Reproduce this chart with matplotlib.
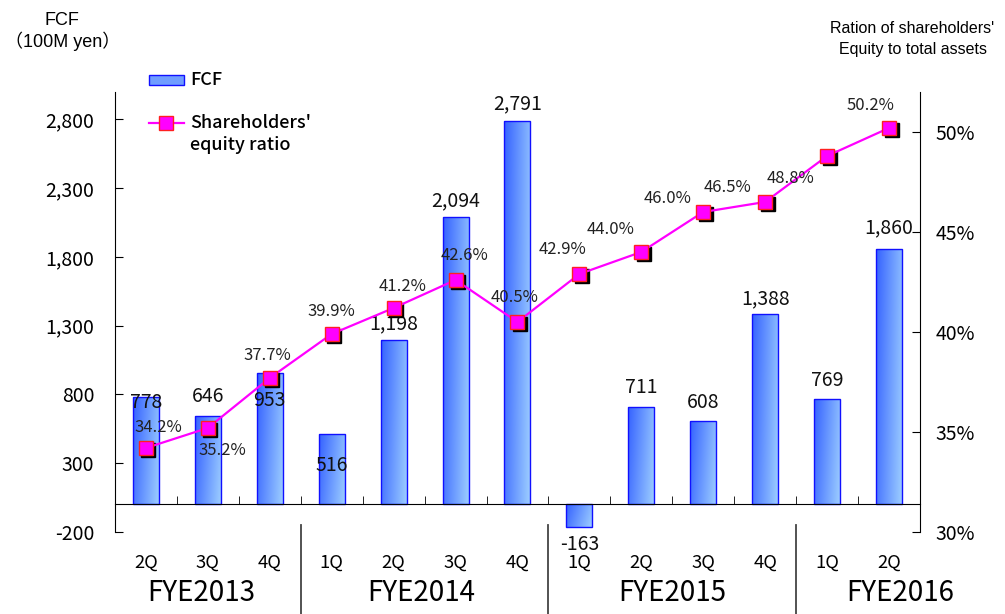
import numpy as np
import matplotlib
matplotlib.use("Agg")
import matplotlib.pyplot as plt
from matplotlib.patches import Rectangle
from matplotlib.transforms import offset_copy, blended_transform_factory

plt.rcParams['font.family'] = ['Noto Sans CJK JP', 'DejaVu Sans']

# data
quarters = ["2Q", "3Q", "4Q", "1Q", "2Q", "3Q", "4Q", "1Q", "2Q", "3Q", "4Q", "1Q", "2Q"]
years = ["FYE2013", "FYE2014", "FYE2015", "FYE2016"]
fcf = [778, 646, 953, 516, 1198, 2094, 2791, -163, 711, 608, 1388, 769, 1860]
equity_ratio = [34.2, 35.2, 37.7, 39.9, 41.2, 42.6, 40.5, 42.9, 44.0, 46.0, 46.5, 48.8, 50.2]

# label layout (pixel offsets from the mark)
fcf_label_dy = [-5, 19, -27, -32, 16, 16, 17, -18, 19, 18, 15, 18, 21]
ratio_label_dx = [12, 15, -2, 0, 9, 9, -3, -17, -31, -36, -38, -37, -19]
ratio_label_dy = [20, -23, 22, 22, 21, 24, 24, 24, 22, 13, 14, -23, 22]
year_x = [0.9, 4.44, 8.5, 12.18]
separators = [2.5, 6.5, 10.5]

fig = plt.figure(figsize=(10.05, 6.14), dpi=100)
ax = fig.add_axes([0.1144, 0.1336, 0.801, 0.7166])
ax2 = ax.twinx()

x = np.arange(len(fcf))
bars = ax.bar(x, fcf, width=0.42, color='none', edgecolor='#1010ff', linewidth=1.0, zorder=3)

# gradient fill for each bar
grad = np.linspace(0, 1, 64)
gx, gy = np.meshgrid(grad, grad)
g = 0.8 * gx + 0.2 * (1 - gy)
cmap = matplotlib.colors.LinearSegmentedColormap.from_list("bl", ["#3562ff", "#9fd0ff"])
for b in bars:
    x0, y0 = b.get_x(), b.get_y()
    w, h = b.get_width(), b.get_height()
    im = ax.imshow(g, extent=(x0, x0 + w, y0 + h, y0) if h > 0 else (x0, x0 + w, y0, y0 + h),
                   cmap=cmap, aspect='auto', zorder=2, origin='upper')
    im.set_clip_path(b)

ax.set_xlim(-0.5, len(fcf) - 0.5)
ax.set_ylim(-200, 3000)
ax.set_yticks([-200, 300, 800, 1300, 1800, 2300, 2800])
ax.set_yticklabels(["-200", "300", "800", "1,300", "1,800", "2,300", "2,800"])
ax.tick_params(axis='y', direction='in', length=6, labelsize=14, pad=15)

ax.spines['top'].set_visible(False)
ax.spines['right'].set_visible(False)
ax.spines['bottom'].set_position(('data', 0))
ax.spines['bottom'].set_zorder(4)
ax.set_xticks(x)
ax.set_xticklabels([])
ax.tick_params(axis='x', which='major', length=0)
ax.set_xticks(np.arange(0.5, len(fcf) - 1), minor=True)
ax.tick_params(axis='x', which='minor', direction='in', length=6)

for i, v in enumerate(fcf):
    ax.annotate(f"{v:,}", (i, v), xytext=(0, fcf_label_dy[i]), textcoords='offset pixels',
                ha='center', va='center', fontsize=14, color='#111111', zorder=6)

# equity ratio line with shadowed markers
ax2.set_ylim(30, 52)
ax2.set_yticks([30, 35, 40, 45, 50])
ax2.set_yticklabels(["30%", "35%", "40%", "45%", "50%"])
ax2.tick_params(axis='y', direction='in', length=6, labelsize=14, pad=11)
for s in ['top', 'left', 'bottom']:
    ax2.spines[s].set_visible(False)

shadow = offset_copy(ax2.transData, fig=fig, x=2.5, y=-2.5, units='dots')
ax2.plot(x, equity_ratio, ls='none', marker='s', ms=10.5, mfc='black', mec='black',
         transform=shadow, zorder=4)
ax2.plot(x, equity_ratio, color='#ff00ff', lw=1.6, marker='s', ms=10.5, mfc='#ff00ff',
         mec='#ff2020', mew=1.0, zorder=5)
for i, p in enumerate(equity_ratio):
    ax2.annotate(f"{p:.1f}%", (i, p), xytext=(ratio_label_dx[i], ratio_label_dy[i]),
                 textcoords='offset pixels', ha='center', va='center', fontsize=12,
                 color='#222222', zorder=6)

# category labels below the plot
trans = blended_transform_factory(ax.transData, ax.transAxes)
for i, q in enumerate(quarters):
    ax.text(i, -0.07, q, transform=trans, ha='center', va='center', fontsize=13.3)
for xp, yr in zip(year_x, years):
    ax.text(xp, -0.139, yr, transform=trans, ha='center', va='center', fontsize=20)
for sx in separators:
    ax.plot([sx, sx], [0.016, -0.2], transform=trans, color='#444444', lw=1.3, clip_on=False)

# axis titles
title_font = ['Liberation Sans', 'Noto Sans CJK JP']
fig.text(0.062, 0.967, "FCF", ha='center', va='center', fontsize=13, family=title_font)
fig.text(0.062, 0.932, "（100M yen）", ha='center', va='center', fontsize=13, family=title_font)
fig.text(0.908, 0.954, "Ration of shareholders'", ha='center', va='center', fontsize=11.5,
         family=title_font)
fig.text(0.908, 0.920, "Equity to total assets", ha='center', va='center', fontsize=11.5,
         family=title_font)

# legend, drawn in axes fraction
ax2.add_patch(Rectangle((0.0422, 1.016), 0.0435, 0.023, transform=ax2.transAxes,
                        facecolor='#6f9dff', edgecolor='#1010ff', lw=1.0, clip_on=False))
ax2.text(0.0932, 1.027, "FCF", transform=ax2.transAxes, ha='left', va='center',
         fontsize=13, fontweight='medium')
ax2.plot([0.0422, 0.0857], [0.9295, 0.9295], transform=ax2.transAxes, color='#ff00ff',
         lw=1.6, clip_on=False)
ax2.plot([0.064], [0.9295], transform=ax2.transAxes, marker='s', ms=10, mfc='#ff00ff',
         mec='#ff2020', mew=1.0, clip_on=False)
ax2.text(0.0932, 0.9295, "Shareholders'", transform=ax2.transAxes, ha='left', va='center',
         fontsize=13, fontweight='medium')
ax2.text(0.0932, 0.8795, "equity ratio", transform=ax2.transAxes, ha='left', va='center',
         fontsize=13, fontweight='medium')

fig.savefig("out.png", dpi=100)
